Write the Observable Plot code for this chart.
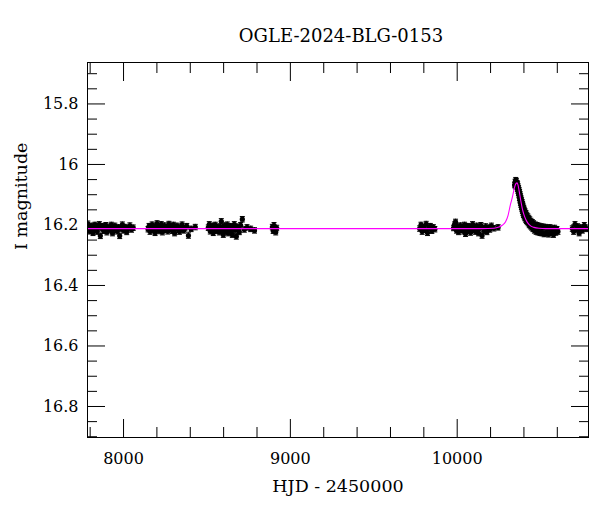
<!DOCTYPE html>
<html>
<head>
<meta charset="utf-8">
<script src="https://cdn.jsdelivr.net/npm/d3@7"></script>
<script src="https://cdn.jsdelivr.net/npm/@observablehq/plot@0.6"></script>
<style>
  html, body { margin: 0; padding: 0; background: #fff; }
  #chart { width: 600px; height: 512px; }
</style>
</head>
<body>
<div id="chart"></div>
<script>
// ---- text ----
const titleText = "OGLE-2024-BLG-0153";
const xLabelText = "HJD - 2450000";
const yLabelText = "I magnitude";

// ---- axes ----
const xDomain = [7784, 10787];
const yDomain = [15.663, 16.9025];
const xMajor = [8000, 9000, 10000];
const xMinor = [7800, 8200, 8400, 8600, 8800, 9200, 9400, 9600, 9800, 10200, 10400, 10600];
const yMajor = [15.8, 16.0, 16.2, 16.4, 16.6, 16.8];
const yMinor = [15.7, 15.75, 15.85, 15.9, 15.95, 16.05, 16.1, 16.15, 16.25, 16.3, 16.35,
                16.45, 16.5, 16.55, 16.65, 16.7, 16.75, 16.85, 16.9];

// ---- photometry (HJD - 2450000, I mag) ----
const hjd = [
  // season 1
  7786, 7791, 7795, 7800, 7806, 7811, 7817, 7823, 7829, 7835, 7842, 7848, 7855, 7861, 7868, 7874, 7881, 7887, 7894, 7900,
  7907, 7914, 7921, 7927, 7934, 7941, 7948, 7955, 7962, 7969, 7977, 7985, 7993, 8001, 8010, 8019, 8028, 8038, 8048, 8058,
  // season 2
  8147, 8153, 8159, 8165, 8171, 8177, 8183, 8189, 8195, 8201, 8208, 8214, 8220, 8226, 8233, 8239, 8246, 8252, 8259, 8265,
  8272, 8279, 8285, 8292, 8299, 8306, 8313, 8320, 8327, 8335, 8343, 8351, 8360, 8369, 8379, 8389, 8405, 8430,
  // season 3
  8508, 8514, 8520, 8526, 8532, 8538, 8544, 8550, 8556, 8562, 8568, 8574, 8580, 8586, 8592, 8598, 8604, 8610, 8616, 8622,
  8628, 8634, 8640, 8646, 8652, 8658, 8664, 8670, 8676, 8682, 8688, 8694, 8702, 8712, 8724, 8740, 8762, 8785,
  // season 4
  8892, 8897, 8902, 8907, 8912, 8918,
  // season 5
  9775, 9783, 9790, 9798, 9806, 9814, 9822, 9830, 9839, 9848, 9857, 9866,
  // season 6
  9978, 9984, 9990, 9996, 10002, 10008, 10014, 10020, 10026, 10032, 10038, 10044, 10050, 10056, 10062, 10068, 10074, 10080, 10086, 10092,
  10098, 10104, 10110, 10116, 10122, 10128, 10135, 10142, 10149, 10156, 10163, 10170, 10178, 10186, 10195, 10205, 10220, 10245,
  // season 7 (event)
  10344, 10347, 10349, 10351, 10353, 10355, 10357, 10359, 10361, 10362, 10364, 10365, 10367, 10368, 10370, 10371, 10373, 10374, 10376, 10377,
  10379, 10380, 10382, 10383, 10385, 10386, 10388, 10389, 10391, 10392, 10394, 10395, 10397, 10399, 10401, 10403, 10405, 10407, 10410, 10412,
  10415, 10417, 10420, 10423, 10426, 10429, 10432, 10435, 10439, 10442, 10446, 10450, 10454, 10458, 10463, 10468, 10473, 10478, 10484, 10490,
  10496, 10502, 10508, 10514, 10521, 10528, 10535, 10542, 10549, 10556, 10563, 10570, 10577, 10584, 10591, 10598, 10604,
  // season 8
  10690, 10698, 10706, 10714, 10722, 10731, 10740, 10750, 10762, 10776
];
const imag = [
  // season 1
  16.196, 16.218, 16.205, 16.221, 16.210, 16.203, 16.226, 16.212, 16.200, 16.215, 16.222, 16.207, 16.198, 16.236, 16.211, 16.204, 16.219, 16.209, 16.201, 16.224,
  16.213, 16.206, 16.217, 16.200, 16.227, 16.210, 16.203, 16.216, 16.221, 16.208, 16.236, 16.212, 16.199, 16.218, 16.207, 16.223, 16.211, 16.202, 16.215, 16.209,
  // season 2
  16.214, 16.204, 16.222, 16.209, 16.199, 16.217, 16.211, 16.226, 16.203, 16.195, 16.213, 16.220, 16.206, 16.198, 16.224, 16.210, 16.202, 16.216, 16.208, 16.221,
  16.197, 16.212, 16.205, 16.219, 16.200, 16.227, 16.209, 16.203, 16.215, 16.222, 16.206, 16.199, 16.218, 16.211, 16.204, 16.235, 16.213, 16.207,
  // season 3
  16.209, 16.198, 16.221, 16.213, 16.203, 16.226, 16.215, 16.200, 16.219, 16.207, 16.212, 16.224, 16.205, 16.188, 16.216, 16.232, 16.202, 16.221, 16.210, 16.199,
  16.227, 16.214, 16.204, 16.220, 16.232, 16.209, 16.198, 16.217, 16.238, 16.206, 16.212, 16.223, 16.201, 16.181, 16.215, 16.208, 16.213, 16.218,
  // season 4
  16.207, 16.219, 16.201, 16.214, 16.224, 16.210,
  // season 5
  16.212, 16.200, 16.222, 16.207, 16.216, 16.197, 16.226, 16.210, 16.204, 16.219, 16.208, 16.214,
  // season 6
  16.210, 16.199, 16.190, 16.218, 16.205, 16.223, 16.212, 16.202, 16.216, 16.208, 16.221, 16.200, 16.229, 16.211, 16.204, 16.219, 16.207, 16.225, 16.213, 16.198,
  16.217, 16.209, 16.222, 16.203, 16.214, 16.227, 16.206, 16.201, 16.235, 16.212, 16.219, 16.205, 16.223, 16.209, 16.215, 16.203, 16.211, 16.208,
  // season 7 (event)
  16.068, 16.058, 16.072, 16.052, 16.063, 16.056, 16.071, 16.062, 16.080, 16.066, 16.086, 16.073, 16.094, 16.079, 16.101, 16.085, 16.110, 16.092, 16.118, 16.099,
  16.126, 16.106, 16.133, 16.113, 16.140, 16.119, 16.147, 16.125, 16.153, 16.131, 16.160, 16.137, 16.166, 16.144, 16.171, 16.150, 16.177, 16.156, 16.182, 16.161,
  16.186, 16.167, 16.190, 16.172, 16.194, 16.177, 16.200, 16.182, 16.204, 16.187, 16.208, 16.191, 16.213, 16.195, 16.218, 16.199, 16.222, 16.201, 16.224, 16.203,
  16.226, 16.205, 16.227, 16.206, 16.230, 16.207, 16.228, 16.209, 16.231, 16.208, 16.226, 16.212, 16.232, 16.210, 16.225, 16.214, 16.222,
  // season 8
  16.212, 16.222, 16.198, 16.215, 16.205, 16.227, 16.209, 16.218, 16.201, 16.213
];
const magErr = 0.009;

// ---- model light curve ----
const modelT = [7784, 10150, 10220, 10250, 10270, 10290, 10305, 10318, 10330, 10340, 10348, 10354, 10359, 10365, 10372,
                10380, 10390, 10400, 10412, 10425, 10440, 10460, 10490, 10530, 10787];
const modelM = [16.212, 16.212, 16.211, 16.207, 16.201, 16.189, 16.168, 16.135, 16.110, 16.084, 16.068, 16.062, 16.061, 16.069, 16.090,
                16.116, 16.145, 16.166, 16.183, 16.195, 16.203, 16.208, 16.211, 16.212, 16.212];

const points = hjd.map((t, i) => ({t, m: imag[i]}));
const model = modelT.map((t, i) => ({t, m: modelM[i]}));

const capSymbol = {
  draw(ctx, size) {
    const w = Math.sqrt(size / Math.PI);
    ctx.moveTo(-w, 0);
    ctx.lineTo(w, 0);
  }
};

const blank = () => "";
const fmtY = d => String(+d.toFixed(1));

const chart = Plot.plot({
  width: 600,
  height: 512,
  marginLeft: 87,
  marginRight: 12,
  marginTop: 62,
  marginBottom: 75,
  x: {domain: xDomain, axis: null},
  y: {domain: yDomain, reverse: true, axis: null},
  style: {fontFamily: "'DejaVu Serif', serif", fontSize: "16px", color: "black", background: "white"},
  marks: [
    Plot.ruleX(points, {x: "t", y1: d => d.m - magErr, y2: d => d.m + magErr, stroke: "black", strokeWidth: 1, clip: true}),
    Plot.dot(points, {x: "t", y: d => d.m - magErr, symbol: capSymbol, r: 2.5, stroke: "black", strokeWidth: 1, clip: true}),
    Plot.dot(points, {x: "t", y: d => d.m + magErr, symbol: capSymbol, r: 2.5, stroke: "black", strokeWidth: 1, clip: true}),
    Plot.dot(points, {x: "t", y: "m", r: 2.6, fill: "black", stroke: "none", clip: true}),
    Plot.line(model, {x: "t", y: "m", stroke: "#ff00ff", strokeWidth: 1.1, curve: "monotone-x", clip: true}),
    // inward ticks, all four sides
    Plot.axisX({ticks: xMajor, anchor: "bottom", tickSize: -18, tickFormat: blank, label: null}),
    Plot.axisX({ticks: xMinor, anchor: "bottom", tickSize: -10, tickFormat: blank, label: null}),
    Plot.axisX({ticks: xMajor, anchor: "top", tickSize: -18, tickFormat: blank, label: null}),
    Plot.axisX({ticks: xMinor, anchor: "top", tickSize: -10, tickFormat: blank, label: null}),
    Plot.axisY({ticks: yMajor, anchor: "left", tickSize: -18, tickFormat: blank, label: null}),
    Plot.axisY({ticks: yMinor, anchor: "left", tickSize: -10, tickFormat: blank, label: null}),
    Plot.axisY({ticks: yMajor, anchor: "right", tickSize: -18, tickFormat: blank, label: null}),
    Plot.axisY({ticks: yMinor, anchor: "right", tickSize: -10, tickFormat: blank, label: null}),
    // tick labels
    Plot.axisX({ticks: xMajor, anchor: "bottom", tickSize: 0, tickPadding: 15, tickFormat: d => String(d), label: null, fontSize: 16}),
    Plot.axisY({ticks: yMajor, anchor: "left", tickSize: 0, tickPadding: 9, tickFormat: fmtY, label: null, fontSize: 16}),
    Plot.frame({stroke: "black", strokeWidth: 1}),
    // titles
    Plot.text([titleText], {frameAnchor: "top", dy: -33, dx: 3, text: d => d, fontSize: 18}),
    Plot.text([xLabelText], {frameAnchor: "bottom", dy: 54, text: d => d, fontSize: 17.5}),
    Plot.text([yLabelText], {frameAnchor: "left", dx: -66, text: d => d, fontSize: 17.5, rotate: -90})
  ]
});
document.getElementById("chart").appendChild(chart);
</script>
</body>
</html>
